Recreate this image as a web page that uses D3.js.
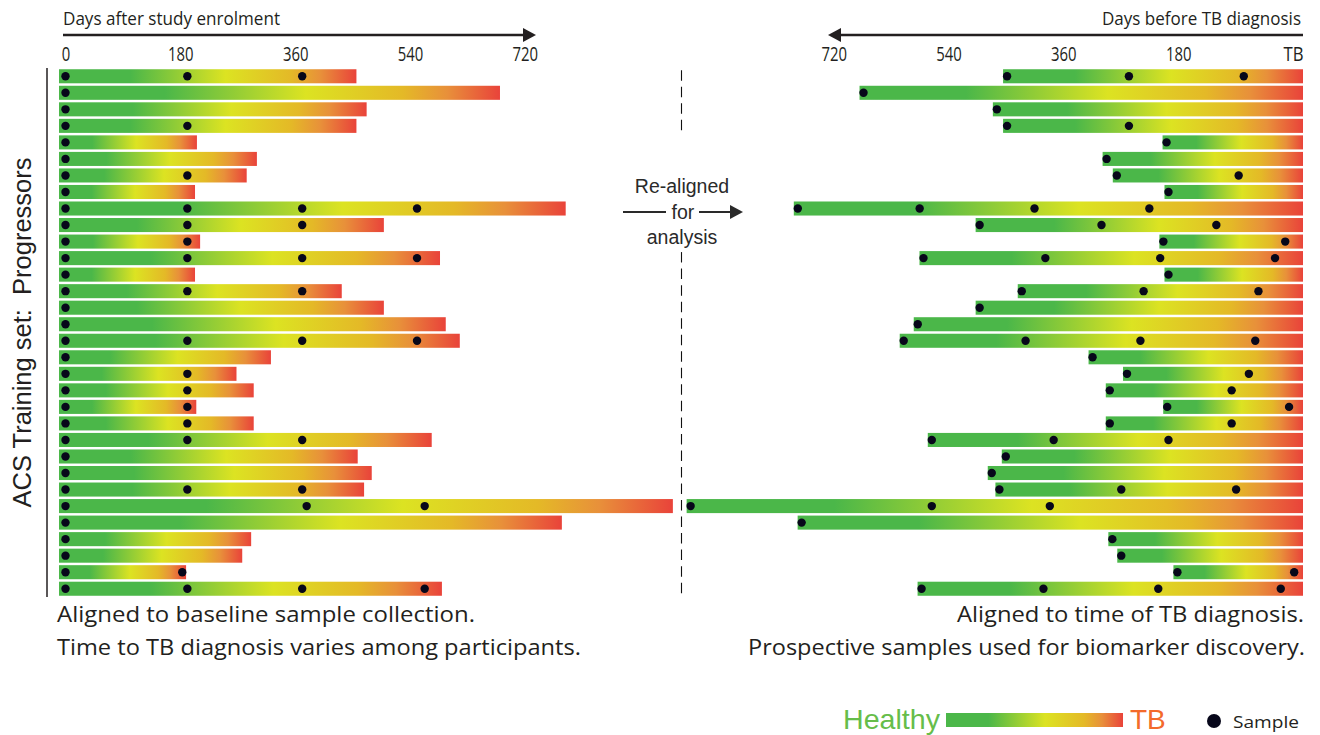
<!DOCTYPE html>
<html><head><meta charset="utf-8">
<script src="https://cdn.jsdelivr.net/npm/d3@7"></script>
<style>body{margin:0;background:#fff;} svg{display:block;}</style>
</head><body>
<svg id="chart" width="1320" height="735"></svg>
<script>
// ---------------- DATA ----------------
const participants = d3.range(1, 33).map(i => "P" + i);
// days from study enrolment to TB diagnosis
const daysToTB = [456, 681, 472, 456, 206, 300, 284, 203, 784, 499, 211, 587, 203, 433, 499, 596,
                  618, 322, 268, 295, 205, 295, 574, 458, 480, 468, 952, 778, 291, 277, 189, 590];
// sample collection days after enrolment
const sampleDays = [
  [0,191,371],[0],[0],[0,191],[0],[0],[0,191],[0],
  [0,191,371,551],[0,191,371],[0,191],[0,191,371,551],[0],[0,191,371],[0],[0],
  [0,191,371,551],[0],[0,191],[0,191],[0,191],[0,191],[0,191,371],[0],
  [0],[0,191,371],[0,378,563],[0],[0],[0],[0,183],[0,191,371,563]
];
const tickDays = [0, 180, 360, 540, 720];
const leftTickLabels = ["0", "180", "360", "540", "720"];
const rightTickLabels = ["TB", "180", "360", "540", "720"];
const gradientColors = ["#4bb749", "#4bb749", "#dce322", "#e4b927", "#e8903a", "#e9433a"];
const gradientOffsets = [0, 0.24, 0.56, 0.78, 0.88, 1];

// ---------------- LAYOUT ----------------
const svg = d3.select("#chart");
const narrow = "'Liberation Sans Narrow', 'Arial Narrow', 'Open Sans', sans-serif";
const helv = "'Liberation Sans', Arial, sans-serif";
const ink = "#231f20";

const pxPerDay = 0.638;
const xL = d3.scaleLinear().domain([0, 720]).range([65.5, 65.5 + pxPerDay * 720]);
const xR = d3.scaleLinear().domain([0, 720]).range([1298, 1298 - pxPerDay * 720]);
const y = d3.scaleBand().domain(participants).range([68, 597]).paddingInner(0.15).paddingOuter(0.075);

const rows = participants.map((p, i) => ({ id: p, fu: daysToTB[i], samples: sampleDays[i] }));

// gradient
const defs = svg.append("defs");
const grad = defs.append("linearGradient").attr("id", "hg").attr("x1", 0).attr("x2", 1).attr("y1", 0).attr("y2", 0);
gradientOffsets.forEach((o, i) => grad.append("stop").attr("offset", o).attr("stop-color", gradientColors[i]));

function arrowHead(g, tipX, yy, dir) {
  const L = 13, H = 7;
  g.append("path")
    .attr("d", `M${tipX},${yy} L${tipX - dir * L},${yy - H} L${tipX - dir * L},${yy + H} Z`)
    .attr("fill", ink);
}

// ---------------- TOP AXES ----------------
const topG = svg.append("g");
topG.append("text").attr("x", 63).attr("y", 25).text("Days after study enrolment")
  .attr("font-family", narrow).attr("font-size", 18.5).attr("fill", ink)
  .attr("textLength", 217).attr("lengthAdjust", "spacingAndGlyphs");
topG.append("line").attr("x1", 63).attr("x2", 524).attr("y1", 35).attr("y2", 35)
  .attr("stroke", ink).attr("stroke-width", 2.4);
arrowHead(topG, 536, 35, 1);

topG.append("text").attr("x", 1301).attr("y", 25).attr("text-anchor", "end").text("Days before TB diagnosis")
  .attr("font-family", narrow).attr("font-size", 18.5).attr("fill", ink)
  .attr("textLength", 199).attr("lengthAdjust", "spacingAndGlyphs");
topG.append("line").attr("x1", 1303).attr("x2", 840).attr("y1", 35).attr("y2", 35)
  .attr("stroke", ink).attr("stroke-width", 2.4);
arrowHead(topG, 828, 35, -1);

const axL = svg.append("g").attr("transform", "translate(0,61)")
  .call(d3.axisTop(xL).tickValues(tickDays).tickSize(0).tickPadding(0)
    .tickFormat((d, i) => leftTickLabels[i]));
const axR = svg.append("g").attr("transform", "translate(0,61)")
  .call(d3.axisTop(xR).tickValues(tickDays).tickSize(0).tickPadding(0)
    .tickFormat((d, i) => rightTickLabels[i]));
[axL, axR].forEach(a => {
  a.select(".domain").remove();
  a.selectAll("text").attr("font-family", narrow).attr("font-size", 19.5).attr("fill", ink)
    .attr("textLength", function () { return this.textContent.length * (this.textContent === "TB" ? 10 : 8.5); })
    .attr("lengthAdjust", "spacingAndGlyphs");
});
axR.selectAll("text").attr("dx", d => d === 0 ? 0 : -5)
  .attr("text-anchor", d => d === 0 ? "end" : "middle")
  .attr("x", d => d === 0 ? 5 : 0);

// ---------------- GUIDE LINES ----------------
svg.append("line").attr("x1", 47).attr("x2", 47).attr("y1", 68).attr("y2", 597)
  .attr("stroke", ink).attr("stroke-width", 1.5);
// dashed separator, interrupted by the "Re-aligned for analysis" note
[[y("P1") + 1, y("P4") + y.bandwidth()], [y("P12") + 1, 598]].forEach(([a, b]) => {
  svg.append("line").attr("x1", 681.5).attr("x2", 681.5).attr("y1", a).attr("y2", b)
    .attr("stroke", "#111").attr("stroke-width", 1.1).attr("stroke-dasharray", "10.5,6.03");
});

svg.append("text").attr("transform", `translate(31,${(68 + 597) / 2}) rotate(-90)`)
  .attr("text-anchor", "middle").attr("font-family", helv).attr("font-size", 25.5).attr("fill", ink)
  .attr("xml:space", "preserve").text("ACS Training set:  Progressors");

// ---------------- BARS ----------------
const leftG = svg.append("g");
const lrow = leftG.selectAll("g").data(rows).join("g");
lrow.append("rect")
  .attr("x", xL(0) - 6.5).attr("y", d => y(d.id))
  .attr("width", d => xL(d.fu) - xL(0) + 6.5).attr("height", y.bandwidth())
  .attr("fill", "url(#hg)");
lrow.selectAll("circle").data(d => d.samples.map(s => ({ row: d, s }))).join("circle")
  .attr("cx", d => xL(d.s)).attr("cy", d => y(d.row.id) + y.bandwidth() / 2)
  .attr("r", 4.2).attr("fill", "#07071a");

const rightG = svg.append("g");
const rrow = rightG.selectAll("g").data(rows).join("g");
rrow.append("rect")
  .attr("x", d => xR(d.fu) - 4).attr("y", d => y(d.id))
  .attr("width", d => xR(0) + 5 - (xR(d.fu) - 4)).attr("height", y.bandwidth())
  .attr("fill", "url(#hg)");
rrow.selectAll("circle").data(d => d.samples.map(s => ({ row: d, s }))).join("circle")
  .attr("cx", d => xR(d.row.fu - d.s)).attr("cy", d => y(d.row.id) + y.bandwidth() / 2)
  .attr("r", 4.2).attr("fill", "#07071a");

// ---------------- MIDDLE ANNOTATION ----------------
const mid = svg.append("g").attr("font-family", helv).attr("font-size", 19.5).attr("fill", "#2a2a2a")
  .attr("text-anchor", "middle");
mid.append("text").attr("x", 682).attr("y", 193).text("Re-aligned");
mid.append("text").attr("x", 683).attr("y", 219).text("for");
mid.append("text").attr("x", 682).attr("y", 244).text("analysis");
mid.append("line").attr("x1", 623).attr("x2", 666).attr("y1", 212).attr("y2", 212).attr("stroke", "#2a2a2a").attr("stroke-width", 2);
mid.append("line").attr("x1", 699).attr("x2", 732).attr("y1", 212).attr("y2", 212).attr("stroke", "#2a2a2a").attr("stroke-width", 2);
mid.append("path").attr("d", "M743,212 L730,205 L730,219 Z").attr("fill", "#2a2a2a");

// ---------------- CAPTIONS ----------------
const cap = svg.append("g").attr("font-family", narrow).attr("font-size", 21).attr("fill", ink);
cap.append("text").attr("x", 57).attr("y", 622).text("Aligned to baseline sample collection.")
  .attr("textLength", 418).attr("lengthAdjust", "spacingAndGlyphs");
cap.append("text").attr("x", 57).attr("y", 655).text("Time to TB diagnosis varies among participants.")
  .attr("textLength", 524).attr("lengthAdjust", "spacingAndGlyphs");
cap.append("text").attr("x", 1304).attr("y", 622).attr("text-anchor", "end").text("Aligned to time of TB diagnosis.")
  .attr("textLength", 347).attr("lengthAdjust", "spacingAndGlyphs");
cap.append("text").attr("x", 1305).attr("y", 655).attr("text-anchor", "end").text("Prospective samples used for biomarker discovery.")
  .attr("textLength", 557).attr("lengthAdjust", "spacingAndGlyphs");

// ---------------- LEGEND ----------------
const leg = svg.append("g");
leg.append("text").attr("x", 843).attr("y", 729).text("Healthy")
  .attr("font-family", helv).attr("font-size", 28).attr("fill", "#66bd4a")
  .attr("textLength", 97).attr("lengthAdjust", "spacingAndGlyphs");
leg.append("rect").attr("x", 946).attr("y", 713).attr("width", 177).attr("height", 14).attr("fill", "url(#hg)");
leg.append("text").attr("x", 1130).attr("y", 729).text("TB")
  .attr("font-family", helv).attr("font-size", 28).attr("fill", "#f36a2b");
leg.append("circle").attr("cx", 1214).attr("cy", 721).attr("r", 7).attr("fill", "#07071a");
leg.append("text").attr("x", 1233).attr("y", 728).text("Sample")
  .attr("font-family", narrow).attr("font-size", 17).attr("fill", ink)
  .attr("textLength", 66).attr("lengthAdjust", "spacingAndGlyphs");
</script>
</body></html>
